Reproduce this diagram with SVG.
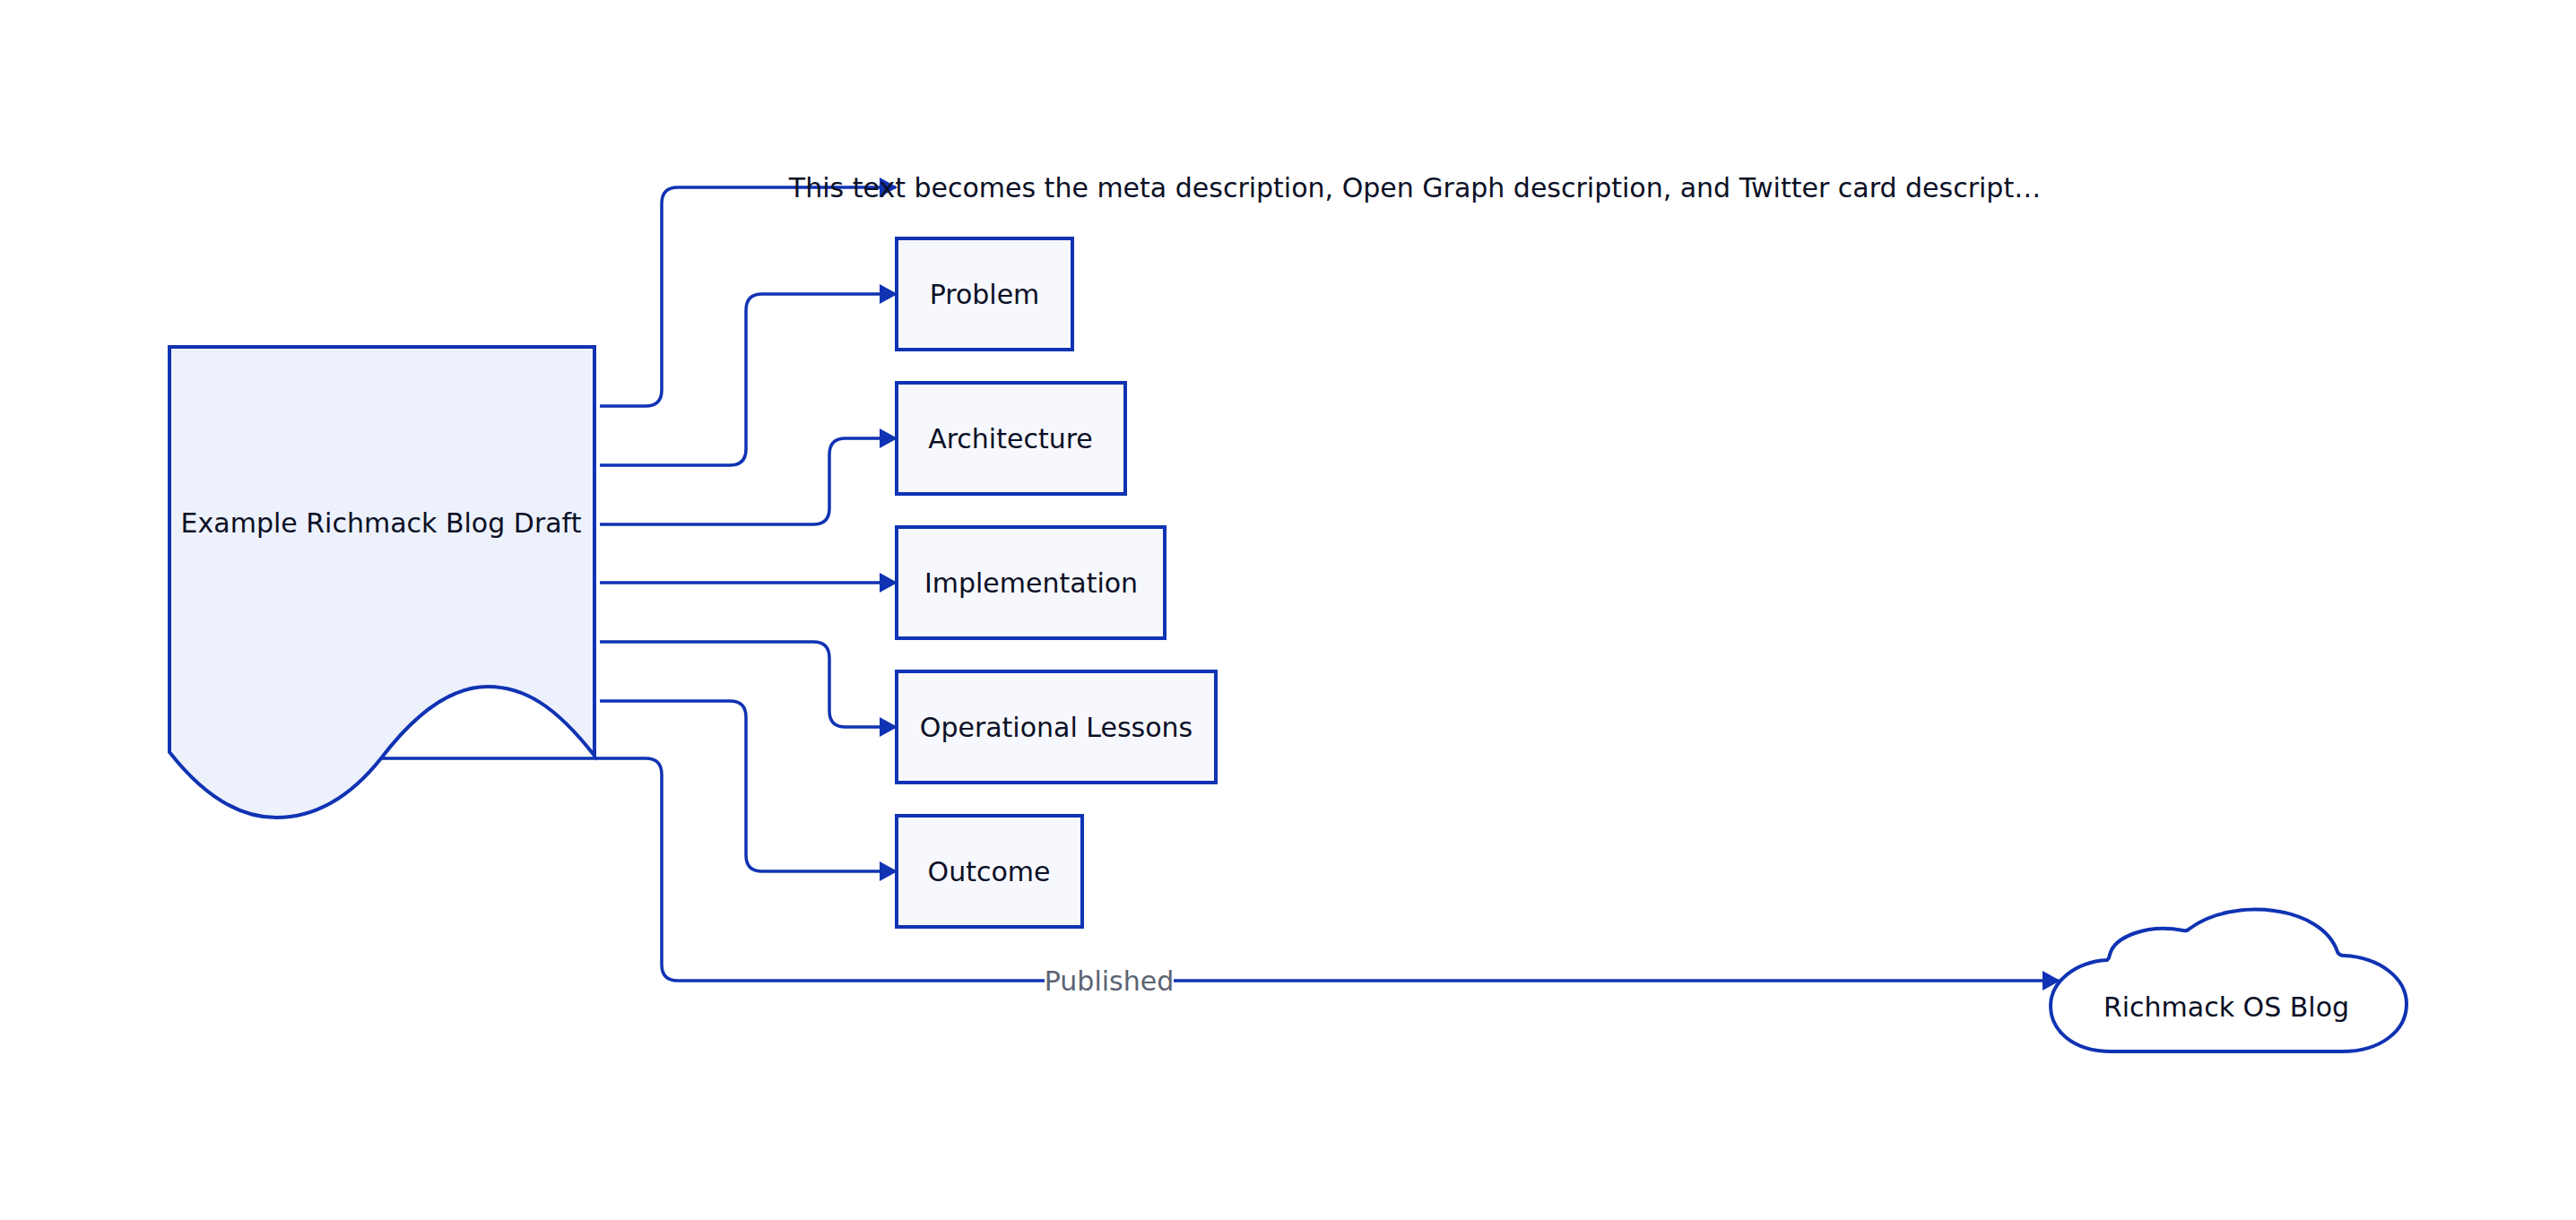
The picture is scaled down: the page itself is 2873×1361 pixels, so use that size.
<svg xmlns="http://www.w3.org/2000/svg" width="2873" height="1361" viewBox="0 0 2873 1361">
<style>
.n{stroke:#1033b3;stroke-width:4;fill:#f7f8fd}
.e{stroke:#1033b3;stroke-width:3.5;fill:none}
text{font-family:"DejaVu Sans",sans-serif;font-size:30px;fill:#0b1026;text-anchor:middle;dominant-baseline:central}
</style>
<defs><marker id="a" markerWidth="20" markerHeight="22" refX="18" refY="11" orient="auto" markerUnits="userSpaceOnUse"><path d="M0,0L20,11L0,22Z" fill="#1033b3"/></marker></defs>
<rect width="2873" height="1361" fill="#fff"/>
<g id="connectors">
<path class="e" marker-end="url(#a)" d="M669,453H720Q738,453 738,435V227Q738,209 756,209H999"/>
<path class="e" marker-end="url(#a)" d="M669,519H814Q832,519 832,501V346Q832,328 850,328H999"/>
<path class="e" marker-end="url(#a)" d="M669,585H907Q925,585 925,567V507Q925,489 943,489H999"/>
<path class="e" marker-end="url(#a)" d="M669,650H999"/>
<path class="e" marker-end="url(#a)" d="M669,716H907Q925,716 925,734V793Q925,811 943,811H999"/>
<path class="e" marker-end="url(#a)" d="M669,782H814Q832,782 832,800V954Q832,972 850,972H999"/>
<path class="e" marker-end="url(#a)" d="M425,846H720Q738,846 738,864V1076Q738,1094 756,1094H2296"/>
<rect x="1165" y="1076" width="144" height="36" fill="#fff"/>
<text x="1237" y="1094" style="fill:#5c6373">Published</text>
</g>
<g id="meta"><text x="1578" y="209">This text becomes the meta description, Open Graph description, and Twitter card descript…</text></g>
<g id="draft">
<path class="n" style="fill:#edf1fc" d="M189,387H663V843C620,788 585,766 544,766C500,766 460,800 425,846C390,890 350,912 308,912C265,912 225,885 189,839Z"/>
<text x="425" y="583">Example Richmack Blog Draft</text>
</g>
<g id="problem"><rect class="n" x="1000" y="266" width="196" height="124"/><text x="1098" y="328">Problem</text></g>
<g id="architecture"><rect class="n" x="1000" y="427" width="255" height="124"/><text x="1127" y="489">Architecture</text></g>
<g id="implementation"><rect class="n" x="1000" y="588" width="299" height="124"/><text x="1150" y="650">Implementation</text></g>
<g id="lessons"><rect class="n" x="1000" y="749" width="356" height="124"/><text x="1178" y="811">Operational Lessons</text></g>
<g id="outcome"><rect class="n" x="1000" y="910" width="207" height="124"/><text x="1103" y="972">Outcome</text></g>
<g id="blog">
<path class="n" style="fill:#fff" d="M2355,1173C2310,1173 2287,1148 2287,1122C2287,1095 2315,1073 2350,1071C2353,1069 2352,1068 2353,1065C2358,1045 2395,1030 2435,1038Q2439,1039 2442,1036C2490,1000 2590,1010 2607,1062Q2609,1066 2614,1066C2655,1068 2684,1092 2684,1120C2684,1150 2655,1173 2612,1173Z"/>
<text x="2483" y="1123">Richmack OS Blog</text>
</g>
</svg>
